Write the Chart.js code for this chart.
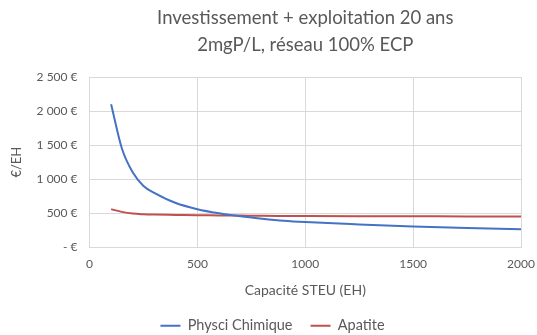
<!DOCTYPE html>
<html><head><meta charset="utf-8">
<script src="https://cdn.jsdelivr.net/npm/chart.js@4/dist/chart.umd.min.js"></script>
<style>html,body{margin:0;padding:0;background:#fff}#wrap{width:537px;height:335px}</style>
</head><body><div id="wrap"><canvas id="c" width="537" height="335"></canvas></div>
<script>
const capacities = [100,150,200,250,300,400,500,600,700,800,900,1000,1250,1500,1750,2000];
const physciChimique = [2100,1450,1100,900,800,650,560,500,455,420,390,370,335,305,285,265];
const apatite = [560,520,495,485,480,475,470,468,465,462,460,458,456,455,453,452];
const seriesNames = ["Physci Chimique","Apatite"];
const titleLines = ["Investissement + exploitation 20 ans","2mgP/L, réseau 100% ECP"];
const xTitle = "Capacité STEU (EH)";
const yTitle = "€/EH";

const FONT = "Lato";
const GREY = "#595959";
function fmtEuro(v){
  if (v === 0) return "- €";
  return v.toLocaleString("fr-FR").replace(/\s/g," ") + " €";
}
const titlePlugin = {
  id: "plotTitle",
  afterLayout(chart){
    const lg = chart.legend;
    if (lg) { lg.top += 8; lg.bottom += 8; lg.left += 12; lg.right += 12; }
  },
  afterDraw(chart){
    const ctx = chart.ctx, a = chart.chartArea;
    ctx.save();
    ctx.fillStyle = GREY;
    ctx.font = "18.5px " + FONT;
    ctx.textAlign = "center";
    ctx.textBaseline = "middle";
    const cx = (a.left + a.right) / 2;
    ctx.fillText(titleLines[0], cx, 18);
    ctx.fillText(titleLines[1], cx, 45);
    ctx.restore();
  }
};
const pts = arr => capacities.map((x,i)=>({x, y: arr[i]}));
new Chart(document.getElementById("c"), {
  type: "line",
  data: { datasets: [
    { label: seriesNames[0], data: pts(physciChimique), borderColor: "#4472C4", backgroundColor:"#4472C4", borderWidth: 2, pointRadius: 0, cubicInterpolationMode: "monotone" },
    { label: seriesNames[1], data: pts(apatite), borderColor: "#C0504D", backgroundColor:"#C0504D", borderWidth: 2, pointRadius: 0, cubicInterpolationMode: "monotone" }
  ]},
  plugins: [titlePlugin],
  options: {
    responsive: false, animation: false,
    layout: { padding: { left: 0, right: 16, top: 77, bottom: 0 } },
    plugins: {
      tooltip: { enabled: false },
      title: { display: false },
      legend: { position: "bottom", labels: { usePointStyle: true, pointStyle: "line", pointStyleWidth: 20, color: GREY, font: { family: FONT, size: 14.5 }, padding: 18 } }
    },
    scales: {
      x: { type: "linear", min: 0, max: 2000,
        afterFit: s => { s.paddingRight = 0; },
        ticks: { stepSize: 500, color: GREY, font: { family: FONT, size: 12 }, padding: 9.5, callback: v => String(v) },
        grid: { color: "#d9d9d9", drawTicks: false },
        border: { color: "#d9d9d9" },
        title: { display: true, text: xTitle, color: GREY, font: { family: FONT, size: 14 }, padding: { top: 1, bottom: -6 } } },
      y: { min: 0, max: 2500,
        ticks: { stepSize: 500, color: GREY, font: { family: FONT, size: 12 }, padding: 12, callback: v => fmtEuro(v) },
        grid: { color: "#d9d9d9", drawTicks: false },
        border: { color: "#d9d9d9" },
        title: { display: true, text: yTitle, color: GREY, font: { family: FONT, size: 13 }, padding: { top: 9, bottom: 0 } } }
    }
  }
});
</script></body></html>
